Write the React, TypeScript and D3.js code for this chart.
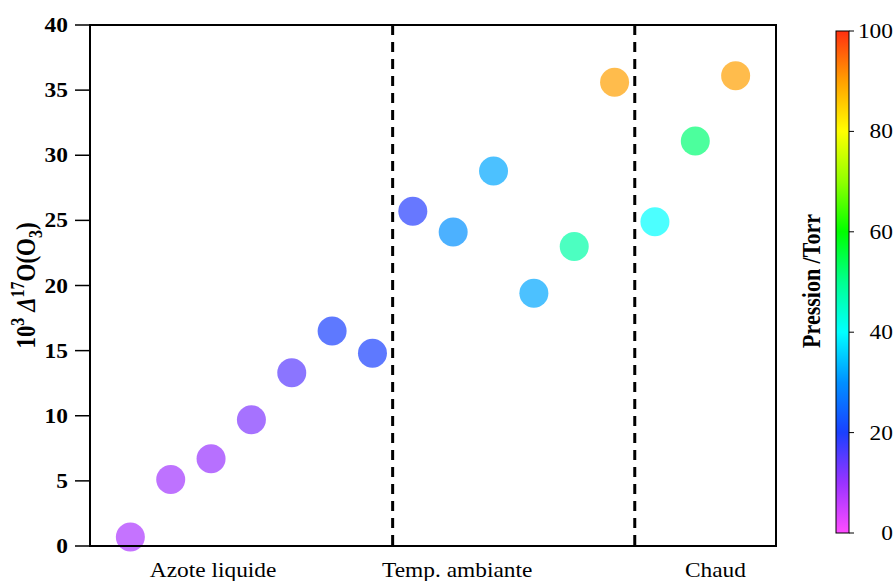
import React from "react";
import * as d3 from "d3";

const categories = ["Azote liquide", "Temp. ambiante", "Chaud"];
const categoryPositions = [2.05, 8.1, 14.5];
const separators = [6.5, 12.5];
const deltaValues = [0.7, 5.1, 6.7, 9.7, 13.3, 16.5, 14.8, 25.7, 24.1, 28.8, 19.4, 23.0, 35.6, 24.9, 31.1, 36.1];
const pressures = [8, 9, 10, 12, 15, 20, 20, 19, 30, 32, 32, 48, 90, 40, 52, 90];
const yTicks = [0, 5, 10, 15, 20, 25, 30, 35, 40];
const cbTicks = [0, 20, 40, 60, 80, 100];
const cmapStops = ["#ff4dff", "#9933ff", "#1a40ff", "#0090ff", "#00ffff", "#00ff90", "#00ff00", "#90ff00", "#ffff00", "#ffa000", "#ff3010"];

const W = 895, H = 581;
const M = { left: 90, right: 776, top: 25, bottom: 546 };
const font = "Liberation Serif";
const SX = 1.17;

export default function App() {
  const x = d3.scaleLinear().domain([-1, 16]).range([M.left, M.right]);
  const y = d3.scaleLinear().domain([0, 40]).range([M.bottom, M.top]);
  const cmap = d3.scaleLinear<string>()
    .domain(cmapStops.map((_, i) => (i * 100) / (cmapStops.length - 1)))
    .range(cmapStops)
    .interpolate(d3.interpolateRgb);
  const cb = { x: 836, w: 13, top: 31, bottom: 533 };
  const cy = d3.scaleLinear().domain([0, 100]).range([cb.bottom, cb.top]);
  const gradStops = d3.range(0, 101, 5);
  const ts = { fontFamily: font };

  return (
    <svg width={W} height={H} style={{ position: "absolute", left: 0, top: 0 }}>
      <defs>
        <linearGradient id="cbgrad" x1="0" y1="1" x2="0" y2="0">
          {gradStops.map((v) => (
            <stop key={v} offset={`${v}%`} stopColor={cmap(v)} />
          ))}
        </linearGradient>
      </defs>
      <rect x={0} y={0} width={W} height={H} fill="white" />
      {separators.map((s) => (
        <line key={s} x1={x(s)} x2={x(s)} y1={M.top} y2={M.bottom} stroke="black" strokeWidth={3} strokeDasharray="10,7" />
      ))}
      {deltaValues.map((v, i) => (
        <circle key={i} cx={x(i)} cy={y(v)} r={14.5} fill={cmap(pressures[i])} fillOpacity={0.7} />
      ))}
      <rect x={M.left} y={M.top} width={M.right - M.left} height={M.bottom - M.top} fill="none" stroke="black" strokeWidth={2} />
      {yTicks.map((t) => (
        <g key={t}>
          <line x1={M.left - 15} x2={M.left} y1={y(t)} y2={y(t)} stroke="black" strokeWidth={1.5} />
          <text transform={`translate(68,${y(t)}) scale(${SX},1)`} dy="0.35em" textAnchor="end" fontSize={20} fontWeight="bold" style={ts}>{t}</text>
        </g>
      ))}
      {categories.map((c, i) => (
        <text key={c} transform={`translate(${x(categoryPositions[i])},577) scale(${SX},1)`} textAnchor="middle" fontSize={20} style={ts}>{c}</text>
      ))}
      <text transform={`translate(35,${(M.top + M.bottom) / 2 + 0}) scale(${SX},1) rotate(-90)`} textAnchor="middle" fontSize={23} fontWeight="bold" style={ts}>
        <tspan>10</tspan>
        <tspan dy={-9} fontSize={16}>3</tspan>
        <tspan dy={9}>{"\u00a0"}</tspan>
        <tspan fontStyle="italic">Δ</tspan>
        <tspan dy={-9} fontSize={16}>17</tspan>
        <tspan dy={9}>O(O</tspan>
        <tspan dy={6} fontSize={16}>3</tspan>
        <tspan dy={-6}>)</tspan>
      </text>
      <rect x={cb.x} y={cb.top} width={cb.w} height={cb.bottom - cb.top} fill="url(#cbgrad)" stroke="black" strokeWidth={1} />
      {cbTicks.map((t) => (
        <g key={t}>
          <line x1={cb.x + cb.w} x2={cb.x + cb.w + 5} y1={cy(t)} y2={cy(t)} stroke="black" strokeWidth={1} />
          <text transform={`translate(893,${cy(t)}) scale(${SX},1)`} dy="0.35em" textAnchor="end" fontSize={20} style={ts}>{t}</text>
        </g>
      ))}
      <text transform={`translate(820,${(cb.top + cb.bottom) / 2 - 1}) scale(${SX},1) rotate(-90)`} textAnchor="middle" fontSize={22} fontWeight="bold" style={ts}>Pression /Torr</text>
    </svg>
  );
}
